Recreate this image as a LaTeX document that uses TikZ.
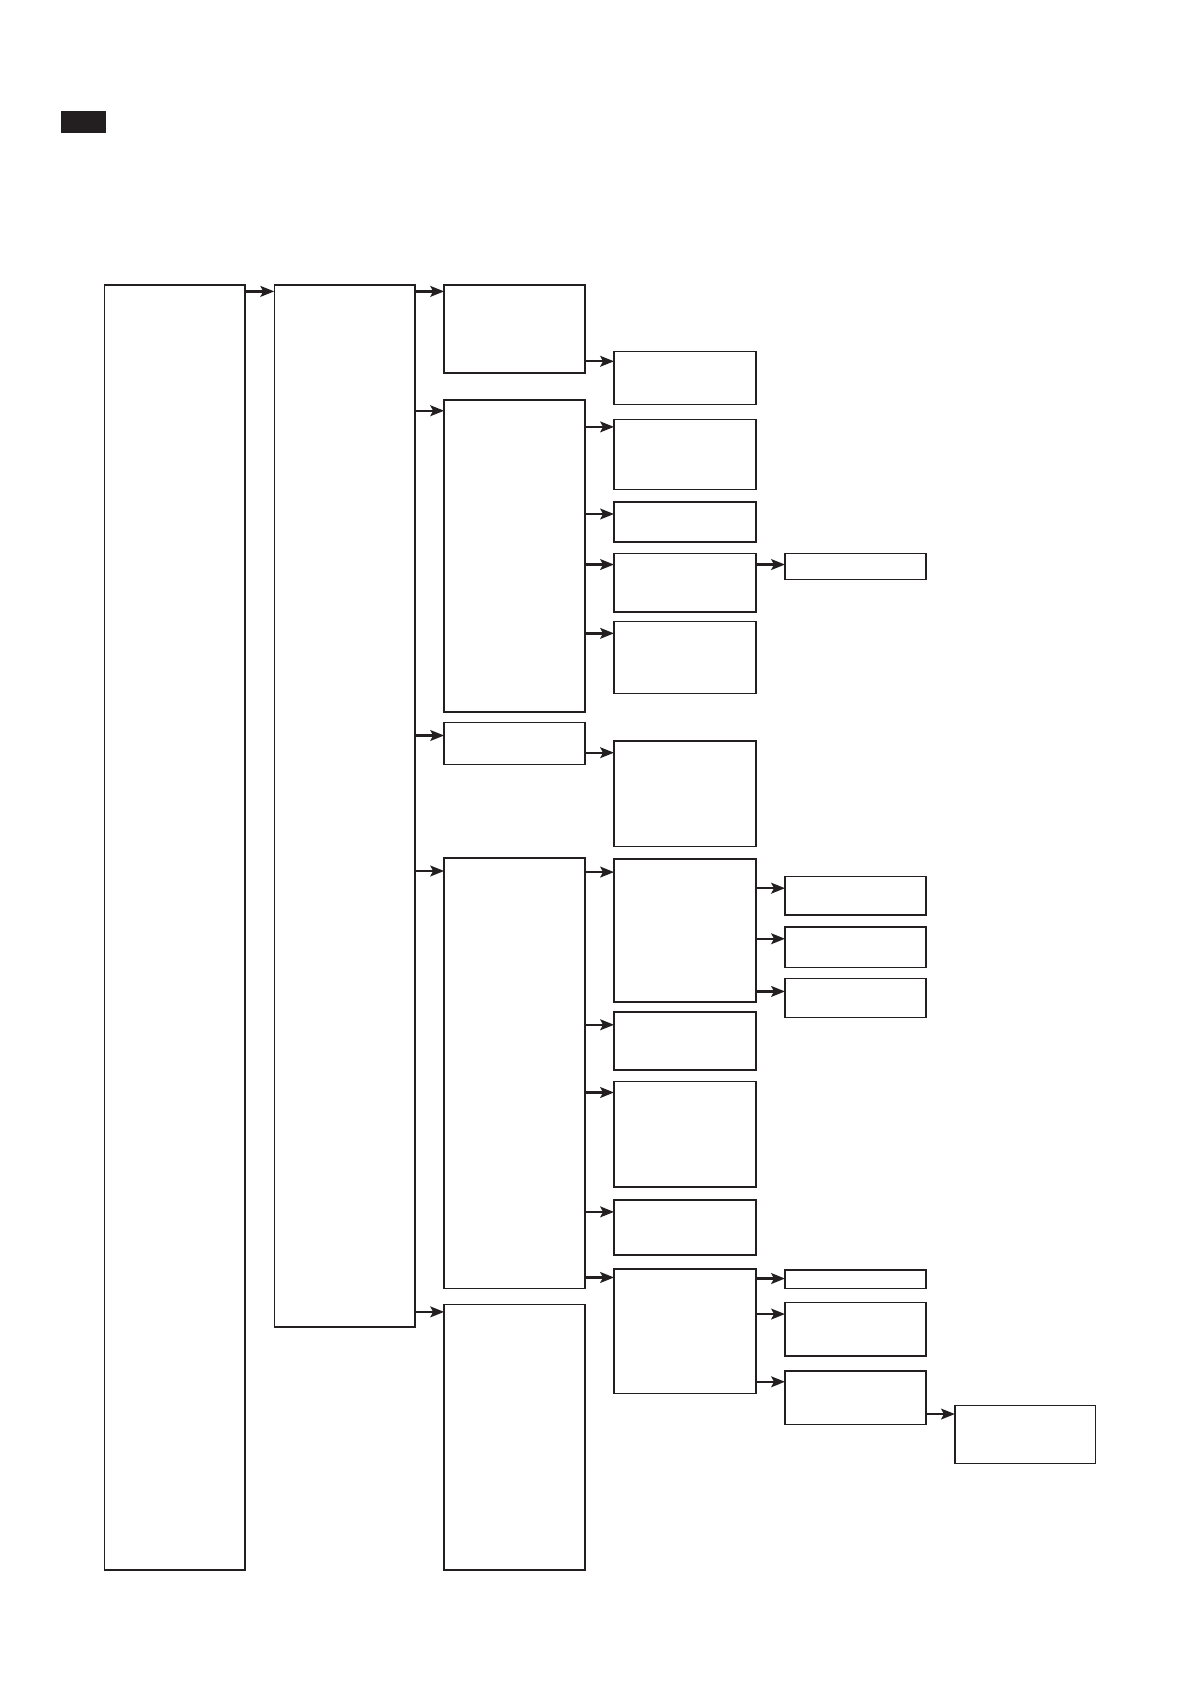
\documentclass[tikz,border=0pt]{standalone}
\usetikzlibrary{arrows.meta}
\definecolor{ink}{RGB}{35,31,32}
\newcommand\mkbox[5]{%
  \node[box, minimum width={(#4-#2)*0.5pt}, minimum height={(#5-#3)*0.5pt}]
    (#1) at ({(#2+#4)/2},{(#3+#5)/2}) {};}
\newcommand\link[3]{\draw[arr] (#1.east |- 0,#3) -- (#2.west |- 0,#3);}
\begin{document}
\begin{tikzpicture}[x=0.5pt,y=-0.5pt,
  box/.style={draw=ink, line width=0.65pt, fill=white, inner sep=0pt, outer sep=0pt, rectangle},
  arr/.style={draw=ink, line width=1.1pt, -{Stealth[length=6.4pt,width=5pt,inset=1.3pt]}}]
\useasboundingbox (0,0) rectangle (1108,1567);
\fill[ink] (57,103) rectangle (99,124);
% column 1 and 2
\mkbox{c1}{97}{265}{228}{1460}
\mkbox{c2}{255}{265}{386}{1234}
% column 3
\mkbox{a}{413}{265}{544}{347}
\mkbox{b}{413}{372}{544}{662}
\mkbox{c}{413}{672}{544}{711}
\mkbox{d}{413}{798}{544}{1198}
\mkbox{e}{413}{1213}{544}{1460}
% column 4
\mkbox{a1}{571}{327}{703}{376}
\mkbox{b1}{571}{390}{703}{455}
\mkbox{b2}{571}{467}{703}{504}
\mkbox{b3}{571}{515}{703}{569}
\mkbox{b4}{571}{578}{703}{645}
\mkbox{cc1}{571}{689}{703}{787}
\mkbox{d1}{571}{799}{703}{932}
\mkbox{d2}{571}{941}{703}{995}
\mkbox{d3}{571}{1006}{703}{1104}
\mkbox{d4}{571}{1116}{703}{1167}
\mkbox{d5}{571}{1180}{703}{1296}
% column 5
\mkbox{b3a}{730}{515}{861}{539}
\mkbox{d1a}{730}{815}{861}{851}
\mkbox{d1b}{730}{862}{861}{900}
\mkbox{d1c}{730}{910}{861}{946}
\mkbox{d5a}{730}{1181}{861}{1198}
\mkbox{d5b}{730}{1211}{861}{1261}
\mkbox{d5c}{730}{1275}{861}{1325}
% column 6
\mkbox{f}{888}{1307}{1019}{1361}
% connectors
\link{c1}{c2}{271}
\link{c2}{a}{271}
\link{c2}{b}{382}
\link{c2}{c}{684}
\link{c2}{d}{810}
\link{c2}{e}{1220}
\link{a}{a1}{336}
\link{b}{b1}{397}
\link{b}{b2}{478}
\link{b}{b3}{525}
\link{b}{b4}{589}
\link{c}{cc1}{700}
\link{d}{d1}{811}
\link{d}{d2}{953}
\link{d}{d3}{1016}
\link{d}{d4}{1127}
\link{d}{d5}{1188}
\link{b3}{b3a}{525}
\link{d1}{d1a}{826}
\link{d1}{d1b}{873}
\link{d1}{d1c}{922}
\link{d5}{d5a}{1189}
\link{d5}{d5b}{1222}
\link{d5}{d5c}{1285}
\link{d5c}{f}{1315}
\end{tikzpicture}
\end{document}
